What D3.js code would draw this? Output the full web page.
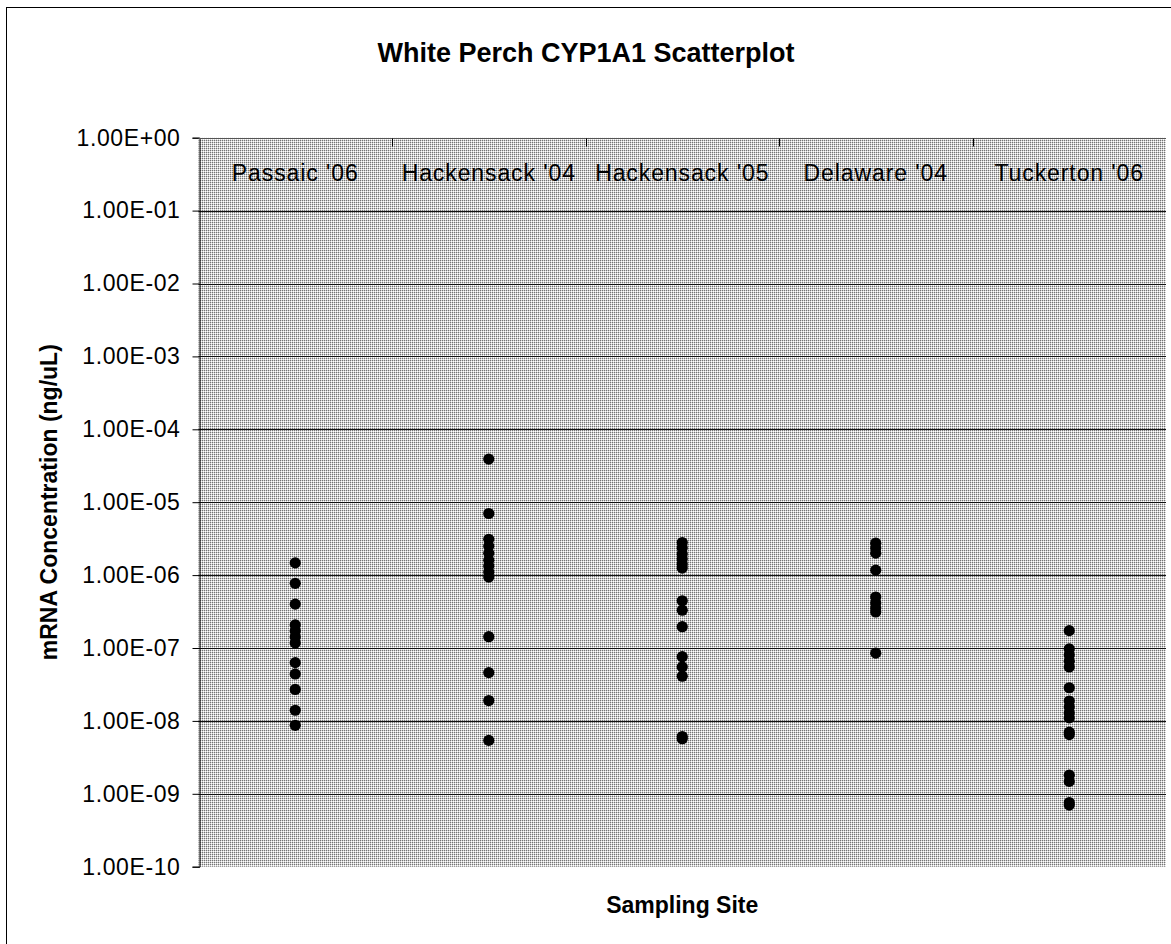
<!DOCTYPE html>
<html>
<head>
<meta charset="utf-8">
<script src="https://cdn.jsdelivr.net/npm/d3@7"></script>
<style>
  html, body { margin: 0; padding: 0; background: #ffffff; }
  svg { display: block; }
  text { font-family: "Liberation Sans", Arial, sans-serif; fill: #000; }
</style>
</head>
<body>
<svg id="chart" width="1171" height="944"></svg>
<script>
// ---- data ----
const categories = ["Passaic '06", "Hackensack '04", "Hackensack '05", "Delaware '04", "Tuckerton '06"];
const passaic06 = [1.47e-6, 7.7e-7, 4.0e-7, 2.07e-7, 1.71e-7, 1.42e-7, 1.17e-7, 6.3e-8, 4.4e-8, 2.7e-8, 1.4e-8, 8.7e-9];
const hackensack04 = [3.9e-5, 7.0e-6, 3.1e-6, 2.5e-6, 2.0e-6, 1.6e-6, 1.33e-6, 1.1e-6, 9.4e-7, 1.43e-7, 4.6e-8, 1.9e-8, 5.4e-9];
const hackensack05 = [2.8e-6, 2.35e-6, 1.95e-6, 1.66e-6, 1.42e-6, 1.25e-6, 4.45e-7, 3.3e-7, 1.96e-7, 7.6e-8, 5.5e-8, 4.1e-8, 6.1e-9, 5.7e-9];
const delaware04 = [2.74e-6, 2.35e-6, 2.0e-6, 1.17e-6, 5.0e-7, 4.15e-7, 3.54e-7, 3.12e-7, 8.5e-8];
const tuckerton06 = [1.73e-7, 9.7e-8, 8.0e-8, 6.6e-8, 5.5e-8, 2.85e-8, 1.87e-8, 1.55e-8, 1.28e-8, 1.1e-8, 7.0e-9, 6.5e-9, 1.8e-9, 1.48e-9, 7.6e-10, 7.0e-10];
const seriesValues = [passaic06, hackensack04, hackensack05, delaware04, tuckerton06];
const yTickValues = [1e0, 1e-1, 1e-2, 1e-3, 1e-4, 1e-5, 1e-6, 1e-7, 1e-8, 1e-9, 1e-10];
const yTickLabels = ["1.00E+00", "1.00E-01", "1.00E-02", "1.00E-03", "1.00E-04", "1.00E-05", "1.00E-06", "1.00E-07", "1.00E-08", "1.00E-09", "1.00E-10"];
const chartTitle = "White Perch CYP1A1 Scatterplot";
const yTitle = "mRNA Concentration (ng/uL)";
const xTitle = "Sampling Site";

// ---- layout ----
const svg = d3.select("#chart");
const plot = { left: 198.5, top: 137.7, right: 1166, bottom: 866.7 };

// outer chart border
svg.append("rect")
  .attr("x", 6.5).attr("y", 7.5)
  .attr("width", 1171 + 10).attr("height", 944 + 10)
  .attr("fill", "#fff").attr("stroke", "#000").attr("stroke-width", 1);

// fill pattern of plot area
const defs = svg.append("defs");
const pat = defs.append("pattern")
  .attr("id", "plaid").attr("patternUnits", "userSpaceOnUse")
  .attr("width", 2).attr("height", 2);
pat.append("rect").attr("x", 0).attr("y", 0).attr("width", 2).attr("height", 2).attr("fill", "#d0d0d0");
pat.append("rect").attr("x", 0).attr("y", 0).attr("width", 1).attr("height", 1).attr("fill", "#747474");
pat.append("rect").attr("x", 1).attr("y", 1).attr("width", 1).attr("height", 1).attr("fill", "#ffffff");

const x = d3.scaleBand().domain(categories).range([plot.left, plot.right]).padding(0);
const y = d3.scaleLog().domain([1e-10, 1e0]).range([plot.bottom, plot.top]);

svg.append("rect")
  .attr("x", plot.left).attr("y", plot.top)
  .attr("width", plot.right - plot.left).attr("height", plot.bottom - plot.top)
  .attr("fill", "url(#plaid)");

// horizontal gridlines
svg.append("g").selectAll("line")
  .data(yTickValues.filter(v => v < 1 && v > 1e-10))
  .join("line")
  .attr("x1", plot.left).attr("x2", plot.right)
  .attr("y1", d => Math.round(y(d)) + 0.5).attr("y2", d => Math.round(y(d)) + 0.5)
  .attr("stroke", "#111").attr("stroke-width", 1);

// y axis
const yAxis = d3.axisLeft(y)
  .tickValues(yTickValues)
  .tickFormat((d, i) => yTickLabels[i])
  .tickSize(7).tickPadding(12);
const gy = svg.append("g")
  .attr("transform", `translate(${Math.round(plot.left) + 0.5},0)`)
  .call(yAxis);
gy.select(".domain").attr("stroke", "#000");
gy.selectAll(".tick line").attr("stroke", "#000");
gy.selectAll(".tick text")
  .attr("font-size", 23).attr("font-family", "'Liberation Sans', Arial, sans-serif")
  .attr("letter-spacing", 0.6)
  .attr("fill", "#000");

// x (category) axis at top, ticks down at band boundaries
const gx = svg.append("g")
  .attr("transform", `translate(0,${Math.round(plot.top) + 0.5})`);
gx.append("line")
  .attr("x1", plot.left).attr("x2", plot.right)
  .attr("y1", 0).attr("y2", 0).attr("stroke", "#555");
gx.selectAll("line.tk")
  .data(categories.slice(1))
  .join("line").attr("class", "tk")
  .attr("x1", d => Math.round(x(d)) + 0.5).attr("x2", d => Math.round(x(d)) + 0.5)
  .attr("y1", 0).attr("y2", 8).attr("stroke", "#000");
gx.selectAll("text")
  .data(categories)
  .join("text")
  .attr("x", d => x(d) + x.bandwidth() / 2)
  .attr("y", 42)
  .attr("text-anchor", "middle")
  .attr("font-size", 23)
  .attr("letter-spacing", 0.9)
  .text(d => d);

// points
const pts = [];
seriesValues.forEach((vals, i) => vals.forEach(v => pts.push({ cat: categories[i], v })));
svg.append("g").selectAll("circle")
  .data(pts)
  .join("circle")
  .attr("cx", d => x(d.cat) + x.bandwidth() / 2)
  .attr("cy", d => y(d.v))
  .attr("r", 5.6)
  .attr("fill", "#000");

// titles
svg.append("text")
  .attr("x", 586).attr("y", 62)
  .attr("text-anchor", "middle")
  .attr("font-size", 27).attr("font-weight", "bold")
  .text(chartTitle);

svg.append("text")
  .attr("x", (plot.left + plot.right) / 2).attr("y", 913)
  .attr("text-anchor", "middle")
  .attr("font-size", 23).attr("font-weight", "bold")
  .text(xTitle);

svg.append("text")
  .attr("transform", `translate(57,${(plot.top + plot.bottom) / 2}) rotate(-90)`)
  .attr("text-anchor", "middle")
  .attr("font-size", 23).attr("font-weight", "bold")
  .text(yTitle);
</script>
</body>
</html>
